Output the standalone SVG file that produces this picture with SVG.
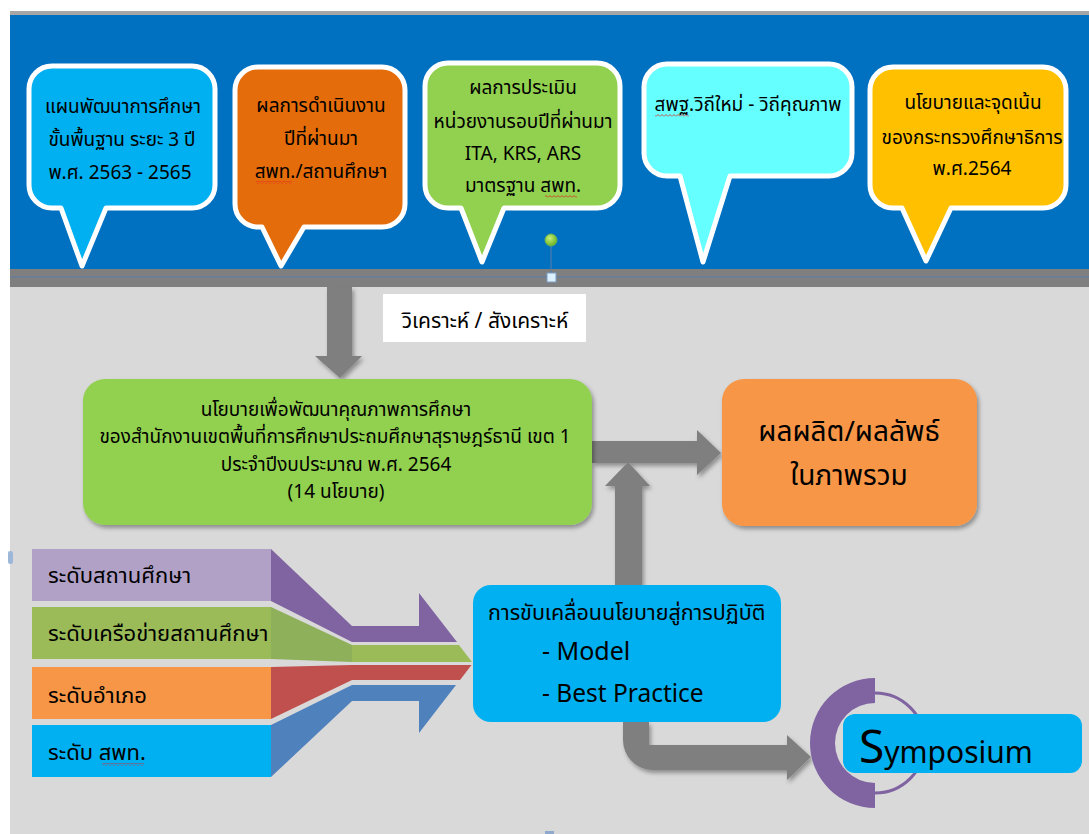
<svg xmlns="http://www.w3.org/2000/svg" width="1089" height="834" viewBox="0 0 1089 834">
<defs>
<style>
.th{font-family:"Noto Sans Thai","Noto Sans","Liberation Sans",sans-serif;fill:#000;}
.c{text-anchor:middle;}
.cf{font-size:19px;}
.call{stroke:#fff;stroke-width:5;stroke-linejoin:round;}
.arr{fill:#7f7f7f;}
.lat{font-family:"Noto Sans","Liberation Sans",sans-serif;fill:#000;}
.sq{fill:url(#wavy);}
</style>
<filter id="sh" x="-10%" y="-10%" width="130%" height="140%">
<feDropShadow dx="2" dy="3" stdDeviation="2" flood-color="#000" flood-opacity="0.35"/>
</filter>
<radialGradient id="gdot" cx="40%" cy="35%" r="60%">
<stop offset="0" stop-color="#c8f07a"/>
<stop offset="1" stop-color="#6fb82a"/>
</radialGradient>
<pattern id="wavy" width="4" height="3" patternUnits="userSpaceOnUse">
<path d="M0,2.5 L2,0.5 L4,2.5" stroke="#e02020" fill="none" stroke-width="0.8"/>
</pattern>
</defs>

<!-- backgrounds -->
<rect x="0" y="0" width="1089" height="834" fill="#fff"/>
<rect x="10" y="11" width="1079" height="4" fill="#a6a6a6"/>
<rect x="10" y="15" width="1079" height="254" fill="#0070c0"/>
<rect x="10" y="269" width="1079" height="18" fill="#7f7f7f"/>
<line x1="10" y1="277" x2="1089" y2="277" stroke="#5b7faa" stroke-width="1"/>
<rect x="10" y="287" width="1079" height="547" fill="#d9d9d9"/>

<!-- callouts -->
<g id="callout1">
<path class="call" fill="#00b0f0" d="M52,66 H192 A23 23 0 0 1 215 89 V185 A23 23 0 0 1 192 208 H106 L82,266 L61,208 H52 A23 23 0 0 1 29 185 V89 A23 23 0 0 1 52 66 Z"/>
<text class="th c cf" x="123" y="113">แผนพัฒนาการศึกษา</text>
<text class="th c cf" x="122" y="146">ขั้นพื้นฐาน ระยะ 3 ปี</text>
<text class="th c cf" x="120" y="179">พ.ศ. 2563 - 2565</text>
</g>
<g id="callout2">
<path class="call" fill="#e46c0a" d="M258,67 H382 A23 23 0 0 1 405 90 V204 A23 23 0 0 1 382 227 H304 L281,266 L262,227 H258 A23 23 0 0 1 235 204 V90 A23 23 0 0 1 258 67 Z"/>
<text class="th c cf" x="321" y="112">ผลการดำเนินงาน</text>
<text class="th c cf" x="321" y="145">ปีที่ผ่านมา</text>
<text class="th c cf" x="321" y="178">สพท./สถานศึกษา</text>
<rect class="sq" x="256" y="181" width="36" height="3"/>
</g>
<g id="callout3">
<path class="call" fill="#92d050" d="M448,63 H597 A23 23 0 0 1 620 86 V185 A23 23 0 0 1 597 208 H504 L482,262 L461,208 H448 A23 23 0 0 1 425 185 V86 A23 23 0 0 1 448 63 Z"/>
<text class="th c cf" x="523" y="94">ผลการประเมิน</text>
<text class="th c cf" x="523" y="128">หน่วยงานรอบปีที่ผ่านมา</text>
<text class="th c cf" x="523" y="160">ITA, KRS, ARS</text>
<text class="th c cf" x="523" y="192">มาตรฐาน สพท.</text>
<rect class="sq" x="545" y="195" width="32" height="3"/>
</g>
<g id="callout4">
<path class="call" fill="#66ffff" d="M667,64 H829 A23 23 0 0 1 852 87 V153 A23 23 0 0 1 829 176 H730 L703,262 L680,176 H667 A23 23 0 0 1 644 153 V87 A23 23 0 0 1 667 64 Z"/>
<text class="th c cf" x="748" y="111">สพฐ.วิถีใหม่ - วิถีคุณภาพ</text>
<rect class="sq" x="655" y="114" width="34" height="3"/>
</g>
<g id="callout5">
<path class="call" fill="#ffc000" d="M893,67 H1043 A23 23 0 0 1 1066 90 V185 A23 23 0 0 1 1043 208 H951 L926,261 L902,208 H893 A23 23 0 0 1 870 185 V90 A23 23 0 0 1 893 67 Z"/>
<text class="th c cf" x="973" y="109">นโยบายและจุดเน้น</text>
<text class="th c cf" x="972" y="144">ของกระทรวงศึกษาธิการ</text>
<text class="th c cf" x="972" y="175">พ.ศ.2564</text>
</g>

<!-- selection handle -->
<g id="handle">
<line x1="551" y1="245" x2="551" y2="273" stroke="#5b7faa" stroke-width="1"/>
<circle cx="551" cy="240" r="6" fill="url(#gdot)" stroke="#7ab648" stroke-width="0.8"/>
<rect x="547" y="273" width="9" height="9" fill="#dcefff" stroke="#7a9cc6" stroke-width="1"/>
<rect x="8" y="551" width="5" height="13" rx="2" fill="#9db7d8"/>
<rect x="545" y="831" width="9" height="3" fill="#8ea9cc"/>
</g>

<!-- connectors -->
<g id="connectors" filter="url(#sh)">
<polygon class="arr" points="327,287 352,287 352,356 362,356 340,378 315,356 327,356"/>
<polygon class="arr" points="592,441 697,441 697,430 721,453 697,475 697,463 592,463"/>
<polygon class="arr" points="615,585 615,486 605,486 628,462 650,486 642,486 642,585"/>
<path class="arr" d="M623,722 H649 V745 H787 V735 L811,757 L787,780 V770 H653 A30 30 0 0 1 623 740 Z"/>
</g>

<!-- label -->
<g id="label">
<rect x="383" y="294" width="203" height="48" fill="#fff"/>
<text class="th c" font-size="21" x="485" y="328">วิเคราะห์ / สังเคราะห์</text>
</g>

<g id="policy">
<rect x="83" y="379" width="509" height="146" rx="22" fill="#92d050" filter="url(#sh)"/>
<text class="th c cf" x="336" y="416">นโยบายเพื่อพัฒนาคุณภาพการศึกษา</text>
<text class="th c cf" x="335" y="443">ของสำนักงานเขตพื้นที่การศึกษาประถมศึกษาสุราษฎร์ธานี เขต 1</text>
<text class="th c cf" x="336" y="471">ประจำปีงบประมาณ พ.ศ. 2564</text>
<text class="th c cf" x="336" y="498">(14 นโยบาย)</text>
</g>

<g id="output">
<rect x="722" y="379" width="255" height="147" rx="22" fill="#f79646" filter="url(#sh)"/>
<text class="th c" font-size="28" x="849" y="441">ผลผลิต/ผลลัพธ์</text>
<text class="th c" font-size="28" x="849" y="485">ในภาพรวม</text>
</g>

<!-- levels funnel -->
<g id="levels">
<rect x="32" y="549" width="239" height="52" fill="#b2a1c7"/>
<rect x="32" y="607" width="239" height="52" fill="#9bbb59"/>
<rect x="32" y="667" width="239" height="52" fill="#f79646"/>
<rect x="32" y="725" width="239" height="52" fill="#00b0f0"/>
<polygon points="271,549 352,626 352,642 271,601" fill="#8064a2"/>
<polygon points="271,607 352,645 352,662 271,659" fill="#8eb05a"/>
<polygon points="271,667 352,665 352,680 271,719" fill="#c0504d"/>
<polygon points="271,725 352,685 352,701 271,777" fill="#4f81bd"/>
<polygon points="352,626 419,626 419,593 457,642 352,642" fill="#8064a2"/>
<polygon points="352,645 459,645 472,662 352,662" fill="#9bbb59"/>
<polygon points="352,665 471.5,665 460,680 352,680" fill="#c0504d"/>
<polygon points="352,685 456,685 419,733 419,701 352,701" fill="#4f81bd"/>
<text class="th" font-size="22" x="48" y="583">ระดับสถานศึกษา</text>
<text class="th" font-size="22" x="48" y="641">ระดับเครือข่ายสถานศึกษา</text>
<text class="th" font-size="22" x="48" y="703">ระดับอำเภอ</text>
<text class="th" font-size="22" x="48" y="760">ระดับ สพท.</text>
<rect class="sq" x="102" y="763" width="42" height="3"/>
</g>

<g id="implement">
<rect x="473" y="585" width="308" height="137" rx="18" fill="#00b0f0"/>
<text class="th" font-size="21.5" x="488" y="620">การขับเคลื่อนนโยบายสู่การปฏิบัติ</text>
<text class="lat" font-size="25" x="542" y="660">- Model</text>
<text class="lat" font-size="24.5" x="542" y="702">- Best Practice</text>
</g>

<g id="symposium">
<path d="M875,693 A50 50 0 0 1 875 793" fill="none" stroke="#8064a2" stroke-width="3"/>
<path d="M875,678 A65 65 0 0 0 875 808 V783 A40 40 0 0 1 875 703 Z" fill="#8064a2"/>
<rect x="843" y="714" width="239" height="59" rx="12" fill="#00b0f0"/>
<text class="lat" x="859" y="763"><tspan font-size="46">S</tspan><tspan font-size="30">ymposium</tspan></text>
</g>
</svg>
